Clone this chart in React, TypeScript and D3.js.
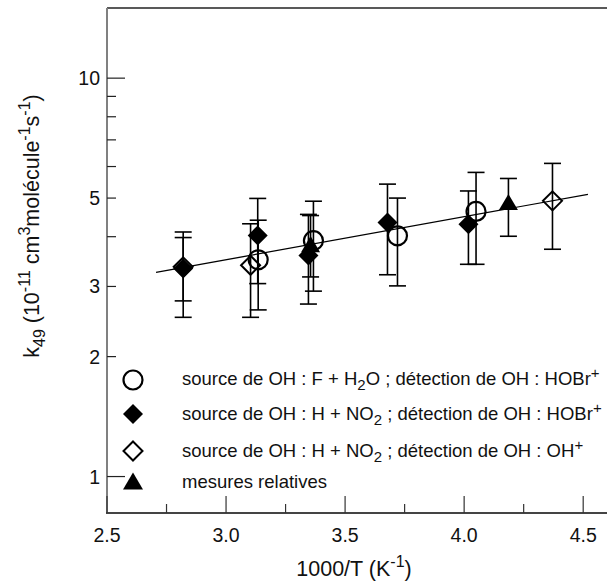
import React from 'react';
import * as d3 from 'd3';

// 1000/T (K-1), k (1e-11 cm3 molecule-1 s-1), error bar ends
const circleX = [3.135, 3.367, 3.72, 4.05];
const circleK = [3.5, 3.91, 4.02, 4.63];
const circleLo = [2.62, 2.92, 3.01, 3.41];
const circleHi = [4.4, 4.91, 5.0, 5.8];

const fDiamondX = [2.82, 3.133, 3.346, 3.678, 4.018];
const fDiamondK = [3.33, 4.03, 3.59, 4.34, 4.3];
const fDiamondLo = [2.51, 3.05, 2.71, 3.21, 3.41];
const fDiamondHi = [4.11, 4.99, 4.55, 5.42, 5.21];

const oDiamondX = [2.82, 3.103, 4.371];
const oDiamondK = [3.36, 3.39, 4.92];
const oDiamondLo = [2.76, 2.51, 3.72];
const oDiamondHi = [3.98, 4.31, 6.11];

const triX = [3.355, 4.186];
const triK = [3.81, 4.86];
const triLo = [3.17, 4.01];
const triHi = [4.52, 5.6];

const fitX = [2.706, 4.52];
const fitK = [3.255, 5.11];

const xMajor = [2.5, 3.0, 3.5, 4.0, 4.5];
const xMinor = [2.75, 3.25, 3.75, 4.25];
const yMajor = [1, 10];
const yMinor = [2, 3, 4, 5, 6, 7, 8, 9];
const yLabels = [1, 2, 3, 5, 10];

const W = 607;
const H = 581;
const left = 107;
const right = 607;
const top = 8;
const bottom = 513;

const x = d3.scaleLinear().domain([2.5, 4.6]).range([left, right]);
const y = d3.scaleLog().domain([0.81, 15]).range([bottom, top]);

const FONT = '"Liberation Sans", Arial, Helvetica, sans-serif';

type Pt = { x: number; k: number; lo: number; hi: number };
const zip = (xs: number[], ks: number[], lo: number[], hi: number[]): Pt[] =>
  xs.map((v, i) => ({ x: v, k: ks[i], lo: lo[i], hi: hi[i] }));

const circles = zip(circleX, circleK, circleLo, circleHi);
const fDiamonds = zip(fDiamondX, fDiamondK, fDiamondLo, fDiamondHi);
const oDiamonds = zip(oDiamondX, oDiamondK, oDiamondLo, oDiamondHi);
const triangles = zip(triX, triK, triLo, triHi);

const diamondPath = (cx: number, cy: number, r: number) =>
  `M${cx},${cy - r}L${cx + r},${cy}L${cx},${cy + r}L${cx - r},${cy}Z`;
const triPath = (cx: number, cy: number, r: number) =>
  `M${cx},${cy - r * 0.95}L${cx + r},${cy + r * 0.75}L${cx - r},${cy + r * 0.75}Z`;

const ErrorBars: React.FC<{ pts: Pt[] }> = ({ pts }) => (
  <g stroke="#000" strokeWidth={1.6}>
    {pts.map((p, i) => {
      const px = x(p.x);
      return (
        <g key={i}>
          <line x1={px} x2={px} y1={y(p.lo)} y2={y(p.hi)} />
          <line x1={px - 8.5} x2={px + 8.5} y1={y(p.lo)} y2={y(p.lo)} />
          <line x1={px - 8.5} x2={px + 8.5} y1={y(p.hi)} y2={y(p.hi)} />
        </g>
      );
    })}
  </g>
);

export default function App() {
  const fitLine = d3.line<number>()
    .x((_, i) => x(fitX[i]))
    .y((d) => y(d));

  const legendRows = [
    { cy: 380, base: 385 },
    { cy: 414, base: 420 },
    { cy: 451, base: 457 },
    { cy: 482, base: 488 },
  ];
  const lx = 133;
  const tx = 182;

  return (
    <div style={{ position: 'absolute', left: 0, top: 0 }}>
      <svg width={W} height={H} style={{ display: 'block', background: '#fff' }} fontFamily={FONT}>
        {/* frame */}
        <line x1={left} x2={W} y1={top} y2={top} stroke="#222" strokeWidth={1.5} />
        <line x1={left} x2={left} y1={top} y2={bottom} stroke="#808080" strokeWidth={2} />
        <line x1={left - 1} x2={W} y1={bottom} y2={bottom} stroke="#444" strokeWidth={2} />

        {/* x ticks */}
        <g stroke="#333" strokeWidth={1.2}>
          {xMajor.map((t) => (
            <line key={t} x1={x(t)} x2={x(t)} y1={bottom} y2={bottom - 17} />
          ))}
          {xMinor.map((t) => (
            <line key={t} x1={x(t)} x2={x(t)} y1={bottom} y2={bottom - 9} />
          ))}
        </g>
        <g fontSize={19.5} textAnchor="middle" fill="#111">
          {xMajor.map((t) => (
            <text key={t} x={x(t)} y={542}>{t.toFixed(1)}</text>
          ))}
        </g>

        {/* y ticks */}
        <g stroke="#222" strokeWidth={1.2}>
          {yMajor.map((t) => (
            <line key={t} x1={left} x2={left + 18} y1={y(t)} y2={y(t)} />
          ))}
          {yMinor.map((t) => (
            <line key={t} x1={left} x2={left + 9} y1={y(t)} y2={y(t)} />
          ))}
        </g>
        <g fontSize={19.5} textAnchor="end" fill="#111">
          {yLabels.map((t) => (
            <text key={t} x={100} y={y(t)} dy="0.36em">{t}</text>
          ))}
        </g>

        {/* axis titles */}
        <text x={354} y={576} fontSize={21.5} textAnchor="middle" fill="#111">
          1000/T (K<tspan dy={-9} fontSize={16}>-1</tspan><tspan dy={9}>)</tspan>
        </text>
        <text transform="translate(39,226) rotate(-90)" fontSize={21.5} textAnchor="middle" fill="#111">
          k<tspan dy={6} fontSize={16}>49</tspan>
          <tspan dy={-6}> (10</tspan>
          <tspan dy={-9} fontSize={16}>-11</tspan>
          <tspan dy={9}> cm</tspan>
          <tspan dy={-9} fontSize={16}>3</tspan>
          <tspan dy={9}>molécule</tspan>
          <tspan dy={-9} fontSize={16}>-1</tspan>
          <tspan dy={9}>s</tspan>
          <tspan dy={-9} fontSize={16}>-1</tspan>
          <tspan dy={9}>)</tspan>
        </text>

        {/* fit */}
        <path d={fitLine(fitK) ?? ''} fill="none" stroke="#000" strokeWidth={1.2} />

        {/* error bars */}
        <ErrorBars pts={oDiamonds} />
        <ErrorBars pts={fDiamonds} />
        <ErrorBars pts={triangles} />
        <ErrorBars pts={circles} />

        {/* markers */}
        {oDiamonds.map((p, i) => (
          <path key={`od${i}`} d={diamondPath(x(p.x), y(p.k), 9.5)} fill="none" stroke="#000" strokeWidth={2} />
        ))}
        {fDiamonds.map((p, i) => (
          <path key={`fd${i}`} d={diamondPath(x(p.x), y(p.k), 10)} fill="#000" />
        ))}
        {triangles.map((p, i) => (
          <path key={`tr${i}`} d={triPath(x(p.x), y(p.k), 9.5)} fill="#000" />
        ))}
        {circles.map((p, i) => (
          <circle key={`c${i}`} cx={x(p.x)} cy={y(p.k)} r={9.5} fill="none" stroke="#000" strokeWidth={2.2} />
        ))}

        {/* legend */}
        <circle cx={lx} cy={legendRows[0].cy} r={9.5} fill="none" stroke="#000" strokeWidth={2.2} />
        <path d={diamondPath(lx, legendRows[1].cy, 10)} fill="#000" />
        <path d={diamondPath(lx, legendRows[2].cy, 9.5)} fill="none" stroke="#000" strokeWidth={2} />
        <path d={triPath(lx, legendRows[3].cy, 10)} fill="#000" />
        <g fontSize={18.5} fill="#111">
          <text x={tx} y={legendRows[0].base}>
            source de OH : F + H<tspan dy={5} fontSize={15}>2</tspan>
            <tspan dy={-5}>O ; détection de OH : HOBr</tspan>
            <tspan dy={-7} fontSize={15}>+</tspan>
          </text>
          <text x={tx} y={legendRows[1].base}>
            source de OH : H + NO<tspan dy={5} fontSize={15}>2</tspan>
            <tspan dy={-5}> ; détection de OH : HOBr</tspan>
            <tspan dy={-7} fontSize={15}>+</tspan>
          </text>
          <text x={tx} y={legendRows[2].base}>
            source de OH : H + NO<tspan dy={5} fontSize={15}>2</tspan>
            <tspan dy={-5}> ; détection de OH : OH</tspan>
            <tspan dy={-7} fontSize={15}>+</tspan>
          </text>
          <text x={tx} y={legendRows[3].base}>mesures relatives</text>
        </g>
      </svg>
    </div>
  );
}
